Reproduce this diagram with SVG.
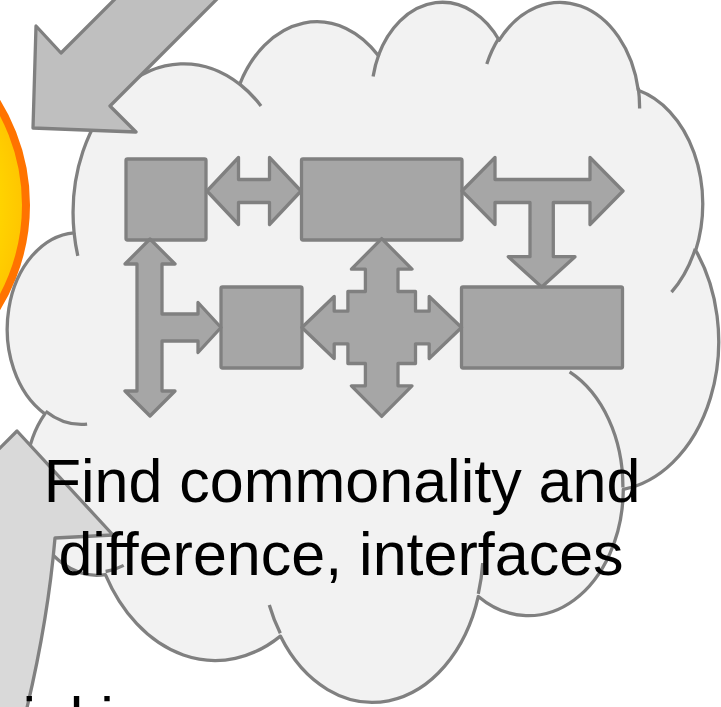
<svg xmlns="http://www.w3.org/2000/svg" width="721" height="707" viewBox="0 0 721 707">
  <defs>
    <radialGradient id="sunFill" cx="-169" cy="205" r="195" gradientUnits="userSpaceOnUse">
      <stop offset="0" stop-color="#ffff80"/>
      <stop offset="0.75" stop-color="#ffe000"/>
      <stop offset="1" stop-color="#ffc400"/>
    </radialGradient>
    <style>
      .cloud { fill: #f2f2f2; stroke: #808080; stroke-width: 3.3; stroke-linejoin: round; }
      .cloud-line { fill: none; stroke: #808080; stroke-width: 3.3; stroke-linecap: butt; }
      .block { fill: #a6a6a6; stroke: #808080; stroke-width: 3.3; stroke-linejoin: round; }
      .big-arrow { stroke: #808080; stroke-width: 3.3; stroke-linejoin: round; }
      .label { font-family: "Liberation Sans", Arial, sans-serif; font-size: 61px; fill: #000000; }
    </style>
  </defs>

  <rect width="721" height="707" fill="#ffffff"/>

  <!-- orange sun, only its right rim inside the frame -->
  <g id="sun">
    <circle cx="-169" cy="205" r="195" fill="url(#sunFill)" stroke="#ff7300" stroke-width="8"/>
  </g>

  <!-- cloud outline built from eleven elliptical bumps -->
  <g id="cloud">
    <path class="cloud" d="M74.1,232.8 A110.68,148.88 0 0 1 239.7,84.3 A87.41,117.73 0 0 1 378.3,55.6 A71.54,96.31 0 0 1 499.2,40.2 A79.61,106.84 0 0 1 638.3,90.3 A87.41,117.82 0 0 1 695.7,250.4 A111.04,149.36 0 0 1 623.3,489.3 A94.82,127.45 0 0 1 478.3,596.4 A110.67,149.28 0 0 1 280.4,636.1 A126.53,170.8 0 0 1 105.4,574.6 A71.46,95.87 0 0 1 44.9,413.9 A71.21,96.31 0 0 1 74.1,232.8 Z"/>
    <path class="cloud-line" d="M87.1,424.1 A71.21,96.31 0 0 1 45.6,411.2 M123.7,565.4 A71.46,95.87 0 0 1 105.6,571.5 M280.3,633.3 A110.67,149.28 0 0 1 269.3,605 M482.7,563 A110.67,149.28 0 0 1 478.3,593.9 M569.6,371.9 A94.82,127.45 0 0 1 622.9,487.5 M695.3,248.7 A87.41,117.82 0 0 1 671.5,292.1 M638.3,87.9 A79.61,106.84 0 0 1 639.6,108.4 M486.8,64 A79.61,106.84 0 0 1 499,37.9 M373.1,76.5 A71.54,96.31 0 0 1 379,54 M239.7,84.1 A110.68,148.88 0 0 1 261,106 M77.8,255.8 A110.68,148.88 0 0 1 74.1,232.8"/>
  </g>

  <!-- block boxes inside the cloud -->
  <g id="box-top-left"><rect class="block" x="126" y="159" width="80" height="81" rx="1.5"/></g>
  <g id="box-top-right"><rect class="block" x="301.5" y="159" width="160.5" height="81" rx="1.5"/></g>
  <g id="box-bottom-left"><rect class="block" x="221" y="287" width="81" height="81" rx="1.5"/></g>
  <g id="box-bottom-right"><rect class="block" x="461.5" y="287" width="161" height="81" rx="1.5"/></g>

  <!-- block arrows joining the boxes -->
  <g id="connectors">
    <polygon class="block" points="207,191 238.5,157.5 238.5,179.5 269.5,179.5 269.5,157.5 301,191 269.5,224.5 269.5,202.5 238.5,202.5 238.5,224.5"/>
    <polygon class="block" points="462,191 495,157.5 495,179.5 590,179.5 590,157.5 623,191 590,224.5 590,202.5 553.3,202.5 553.3,256.7 575,256.7 541.7,287 508.3,256.7 530,256.7 530,202.5 495,202.5 495,224.5"/>
    <polygon class="block" points="150,239 175,264 162,264 162,314 198,314 198,302.5 221,327.5 198,352.5 198,341 162,341 162,391 175,391 150,416 125,391 137,391 137,264 125,264"/>
    <polygon class="block" points="301.9,327.5 334.2,296.5 334.2,311.2 347.9,311.2 347.9,291.5 365.4,291.5 365.4,269.2 351.4,269.2 381.7,238.6 412,269.2 398,269.2 398,291.5 415.5,291.5 415.5,311.2 429.2,311.2 429.2,296.5 461.5,327.5 429.2,358.5 429.2,343.8 415.5,343.8 415.5,363.5 398,363.5 398,385.8 412,385.8 381.7,416.4 351.4,385.8 365.4,385.8 365.4,363.5 347.9,363.5 347.9,343.8 334.2,343.8 334.2,358.5"/>
  </g>

  <!-- large arrow entering from the top -->
  <g id="arrow-top">
    <polygon class="big-arrow" fill="#bfbfbf" points="33,128 36,26 61,53 134,-20 236,-20 110,106 136,132"/>
  </g>

  <!-- large arrow rising from the bottom left -->
  <g id="arrow-bottom">
    <path class="big-arrow" fill="#d9d9d9" d="M17,431 L113,535 L55,538 Q48,620 26,712 L-30,712 L-30,478 Z"/>
  </g>

  <g id="cloud-label">
    <text class="label" x="342" y="501.5" text-anchor="middle">Find commonality and</text>
    <text class="label" x="341" y="575" text-anchor="middle">difference, interfaces</text>
  </g>

  <!-- caption of a neighbouring shape, cut by the lower edge -->
  <g id="lower-caption">
    <text class="label" x="-48.8" y="740" font-size="60">Thinking</text>
  </g>
</svg>
